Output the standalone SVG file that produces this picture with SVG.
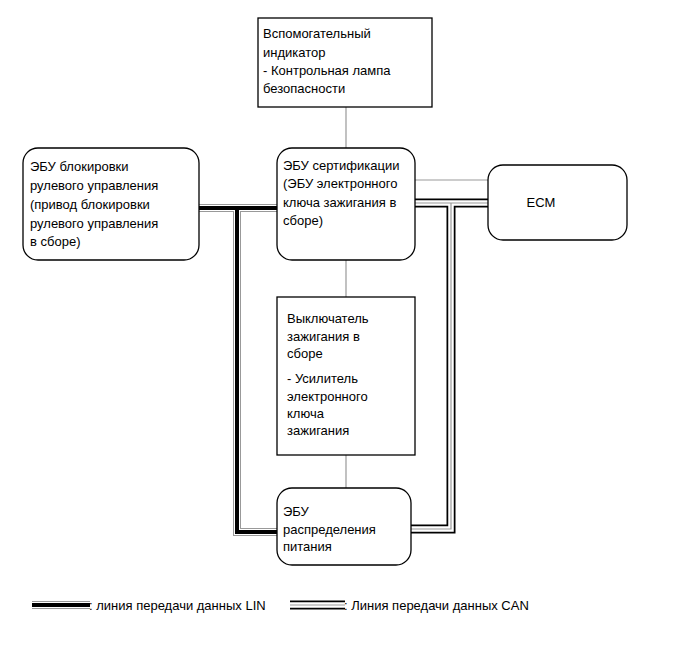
<svg xmlns="http://www.w3.org/2000/svg" width="691" height="660" viewBox="0 0 691 660">
<style>
.box{fill:#fff;stroke:#000;stroke-width:1.3}
text{font-family:"Liberation Sans",Arial,sans-serif;font-size:13px;fill:#000}
.thin{fill:none;stroke:#999;stroke-width:1.2}
.linO{fill:none;stroke:#999;stroke-width:8}
.linW{fill:none;stroke:#fff;stroke-width:6}
.linB{fill:none;stroke:#000;stroke-width:4}
.canO{fill:none;stroke:#000;stroke-width:9}
.canW{fill:none;stroke:#fff;stroke-width:5.5}
.canG{fill:none;stroke:#999;stroke-width:1.2}
</style>
<rect width="691" height="660" fill="#fff"/>
<g id="connectors">
<path class="thin" d="M346 107V148M346 260V297M346 455V488M415 180H488"/>
<path class="linO" d="M199 208H277M237 208V532H277"/>
<path class="linW" d="M199 208H277M237 208V532H277"/>
<path class="linB" d="M199 208H277M237 208V532H277"/>
<path class="canO" d="M415 203H488M451 203V529H411"/>
<path class="canW" d="M415 203H488M451 203V529H411"/>
<path class="canG" d="M415 203H488M451 203V529H411"/>
</g>
<g id="indicator">
<rect class="box" x="258" y="18" width="174" height="89"/>
<text x="263" y="38">Вспомогательный</text>
<text x="263" y="57">индикатор</text>
<text x="263" y="75">- Контрольная лампа</text>
<text x="263" y="93">безопасности</text>
</g>
<g id="steering">
<rect class="box" x="23" y="148" width="176" height="112" rx="15"/>
<text x="30" y="171">ЭБУ блокировки</text>
<text x="30" y="190">рулевого управления</text>
<text x="30" y="209">(привод блокировки</text>
<text x="30" y="228">рулевого управления</text>
<text x="30" y="246">в сборе)</text>
</g>
<g id="cert">
<rect class="box" x="277" y="148" width="138" height="112" rx="15"/>
<text x="283" y="170">ЭБУ сертификации</text>
<text x="283" y="188">(ЭБУ электронного</text>
<text x="283" y="207">ключа зажигания в</text>
<text x="283" y="225">сборе)</text>
</g>
<g id="ecm">
<rect class="box" x="488" y="165" width="139" height="75" rx="15"/>
<text x="541" y="207" text-anchor="middle">ECM</text>
</g>
<g id="ignition">
<rect class="box" x="277" y="297" width="138" height="158"/>
<text x="287" y="323">Выключатель</text>
<text x="287" y="341">зажигания в</text>
<text x="287" y="358">сборе</text>
<text x="287" y="383">- Усилитель</text>
<text x="287" y="401">электронного</text>
<text x="287" y="418">ключа</text>
<text x="287" y="435">зажигания</text>
</g>
<g id="power">
<rect class="box" x="277" y="488" width="134" height="77" rx="15"/>
<text x="283" y="516">ЭБУ</text>
<text x="283" y="534">распределения</text>
<text x="283" y="551">питания</text>
</g>
<g id="legend">
<path class="linO" d="M32 605H90"/>
<path class="linW" d="M32 605H90"/>
<path class="linB" d="M32 605H90"/>
<text x="89" y="610">: линия передачи данных LIN</text>
<path class="canO" d="M290 605H345"/>
<path class="canW" d="M290 605H345"/>
<path class="canG" d="M290 605H345"/>
<text x="344" y="610">: Линия передачи данных CAN</text>
</g>
</svg>
